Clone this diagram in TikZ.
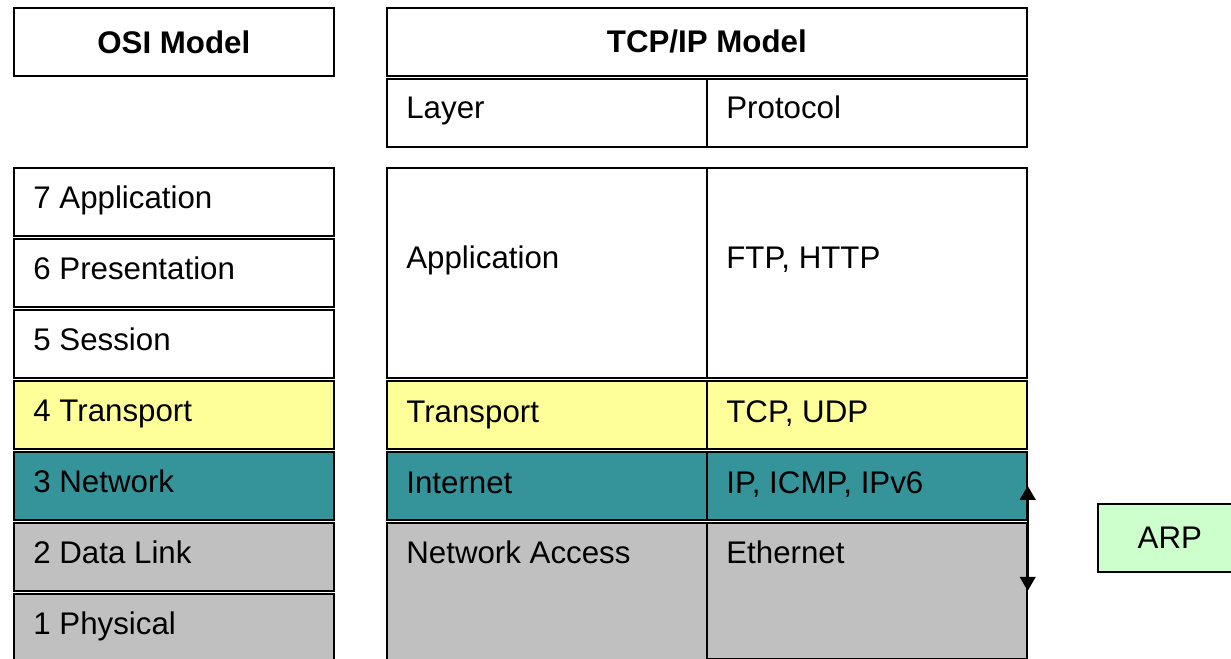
\documentclass[tikz,border=0pt]{standalone}
\usepackage{fontspec}
\setmainfont{Liberation Sans}
\usetikzlibrary{arrows.meta}

\definecolor{osiyellow}{HTML}{FFFF99}
\definecolor{ositeal}{HTML}{35939A}
\definecolor{osigray}{HTML}{C0C0C0}
\definecolor{arpgreen}{HTML}{CCFFCC}

\begin{document}
\begin{tikzpicture}[
        x=0.02cm, y=-0.02cm,
        cell/.style = {draw=black, line width=1pt, anchor=north west, inner sep=0pt,
                       minimum width=6.4cm, minimum height=1.36cm,
                       font=\fontsize{17.8}{21}\selectfont},
        head/.style = {cell, font=\fontsize{17.8}{21}\selectfont\bfseries},
        txt/.style  = {anchor=base west, inner sep=0pt, font=\fontsize{17.8}{21}\selectfont},
        arp link/.style = {line width=1.1pt, {Triangle[length=8pt,width=9pt]}-{Triangle[length=8pt,width=9pt]}}
    ]
        \useasboundingbox (0,0) rectangle (1231,659);
        \clip (0,0) rectangle (1231,659);

        % headings
        \node[head] (osiHead) at (13,7) {OSI Model};
        \node[head, minimum width=12.8cm] (tcpHead) at (386,7) {TCP/IP Model};
        \node[cell] (layerHead) at (386,78) {};
        \node[cell] (protoHead) at (706,78) {};
        \node[txt] (layerTxt) at ([shift={(20,40)}]layerHead.north west) {Layer};
        \node[txt] (protoTxt) at ([shift={(20,40)}]protoHead.north west) {Protocol};

        % OSI layers
        \foreach \n/\name/\top/\col in {7/Application/167/white, 6/Presentation/238/white,
                5/Session/309/white, 4/Transport/380/osiyellow, 3/Network/451/ositeal,
                2/Data Link/522/osigray, 1/Physical/593/osigray}{
            \node[cell, fill=\col] (osi\n) at (13,\top) {};
            \node[txt] (osiTxt\n) at ([shift={(20,41)}]osi\n.north west) {\n\ \name};
        }

        % TCP/IP layers
        \node[cell, minimum height=4.2cm] (appLayer) at (386,167) {};
        \node[cell, minimum height=4.2cm] (appProto) at (706,167) {};
        \node[txt] (appTxt) at ([shift={(20,101)}]appLayer.north west) {Application};
        \node[txt] (appProtoTxt) at ([shift={(20,101)}]appProto.north west) {FTP, HTTP};

        \node[cell, fill=osiyellow] (tpLayer) at (386,380) {};
        \node[cell, fill=osiyellow] (tpProto) at (706,380) {};
        \node[txt] (tpTxt) at ([shift={(20,42)}]tpLayer.north west) {Transport};
        \node[txt] (tpProtoTxt) at ([shift={(20,42)}]tpProto.north west) {TCP, UDP};

        \node[cell, fill=ositeal] (ipLayer) at (386,451) {};
        \node[cell, fill=ositeal] (ipProto) at (706,451) {};
        \node[txt] (ipTxt) at ([shift={(20,42)}]ipLayer.north west) {Internet};
        \node[txt] (ipProtoTxt) at ([shift={(20,42)}]ipProto.north west) {IP, ICMP, IPv6};

        \node[cell, fill=osigray, minimum height=2.96cm] (naLayer) at (386,522) {};
        \node[cell, fill=osigray, minimum height=2.72cm] (ethProto) at (706,522) {};
        \node[txt] (naTxt) at ([shift={(20,41)}]naLayer.north west) {Network Access};
        \node[txt] (ethTxt) at ([shift={(20,41)}]ethProto.north west) {Ethernet};

        % ARP
        \draw[arp link] (ethProto.east) -- (ipProto.east);
        \node[cell, fill=arpgreen, minimum width=2.88cm] (arp) at (1097,503) {ARP};
    \end{tikzpicture}
\end{document}
